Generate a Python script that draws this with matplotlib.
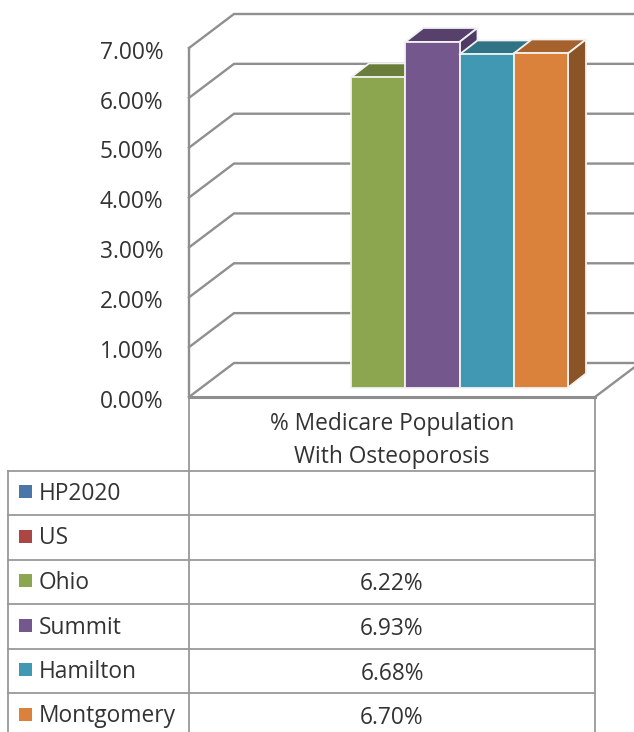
import numpy as np
import matplotlib
matplotlib.use("Agg")
import matplotlib.pyplot as plt
from matplotlib.patches import Polygon, Rectangle
from matplotlib.transforms import ScaledTranslation

plt.rcParams['font.family'] = ['Open Sans', 'DejaVu Sans']

series = ['HP2020', 'US', 'Ohio', 'Summit', 'Hamilton', 'Montgomery']
values = [None, None, 6.22, 6.93, 6.68, 6.70]
front_colors = ['#4A76A8', '#AA4643', '#8CA650', '#73578D', '#4098B2', '#DA813C']
top_colors = ['#38597F', '#803533', '#6B7D3A', '#57406B', '#2F7385', '#A6622C']
side_colors = ['#304C6C', '#6C2D2B', '#5C6C33', '#4E3A62', '#2A6475', '#8A5426']
category_label = '% Medicare Population\nWith Osteoporosis'
y_ticks = [0, 1, 2, 3, 4, 5, 6, 7]
y_tick_labels = ['0.00%', '1.00%', '2.00%', '3.00%', '4.00%', '5.00%', '6.00%', '7.00%']

W, H = 634, 732
PX_Y = 349 / 7          # pixels per percentage point
PX_X = 54.25            # pixels per series slot
GRAY = '#8f8f8f'
TEXT = '#333333'
FS = 16.4

fig = plt.figure(figsize=(W / 100, H / 100), dpi=100, facecolor='white')

# overlay in pixel coordinates for the data table
tb = fig.add_axes([0, 0, 1, 1], zorder=1)
tb.set_xlim(0, W)
tb.set_ylim(H, 0)
tb.axis('off')

# main chart axes: x in series slots, y in percent
ax = fig.add_axes([189 / W, (H - 397) / H, (W - 189) / W, 349 / H], zorder=2)
ax.patch.set_alpha(0)
x_left = (189 - 242.5) / PX_X
x_right = (W - 242.5) / PX_X
x_front_right = (595 - 242.5) / PX_X
ax.set_xlim(x_left, x_right)
ax.set_ylim(0, 7)
for s in ax.spines.values():
    s.set_visible(False)
ax.set_xticks([])
ax.set_yticks(y_ticks)
ax.set_yticklabels(y_tick_labels, fontsize=FS, color=TEXT)
ax.tick_params(axis='y', length=0, pad=18.5)
shift = ScaledTranslation(0, -1.2 / 72, fig.dpi_scale_trans)
for lab in ax.get_yticklabels():
    lab.set_transform(lab.get_transform() + shift)

wall_dx, wall_dy = 45 / PX_X, 34 / PX_Y
lw = 1.7
for v in y_ticks:
    ax.plot([x_left, x_left + wall_dx, x_right], [v, v + wall_dy, v + wall_dy],
            color=GRAY, lw=lw, clip_on=False, zorder=1, solid_joinstyle='miter')
ax.plot([x_left, x_left], [0, 7], color=GRAY, lw=lw, clip_on=False, zorder=1)
ax.plot([x_left, x_front_right], [0, 0], color=GRAY, lw=2.2, clip_on=False, zorder=1)
ax.plot([x_front_right, x_front_right + wall_dx], [0, wall_dy],
        color=GRAY, lw=lw, clip_on=False, zorder=1)

# 3D bars
base = 9.5 / PX_Y
bar_dx, bar_dy = 18 / PX_X, 14 / PX_Y
for i, v in enumerate(values):
    if v is None:
        continue
    top = base + v
    ec = dict(edgecolor='#f2f2f2', linewidth=1.3, clip_on=False, zorder=3 + i, joinstyle='round')
    ax.add_patch(Polygon([(i, top), (i + bar_dx, top + bar_dy),
                          (i + 1 + bar_dx, top + bar_dy), (i + 1, top)],
                         facecolor=top_colors[i], **ec))
    ax.add_patch(Polygon([(i + 1, base), (i + 1 + bar_dx, base + bar_dy),
                          (i + 1 + bar_dx, top + bar_dy), (i + 1, top)],
                         facecolor=side_colors[i], **ec))
    ax.add_patch(Rectangle((i, base), 1, v, facecolor=front_colors[i], **ec))

# data table
row_edges = [470.5, 515, 559.5, 604, 648.5, 693]
col_x = [8, 189, 595]
tl = dict(color='#999999', lw=1.3, zorder=1)
for y in row_edges:
    tb.plot([col_x[0], col_x[2]], [y, y], **tl)
tb.plot([col_x[0], col_x[0]], [row_edges[0], H], **tl)
tb.plot([col_x[1], col_x[1]], [397, H], **tl)
tb.plot([col_x[2], col_x[2]], [397, H], **tl)

tb.text(392, 440.5, category_label, ha='center', va='center', fontsize=FS, color=TEXT,
        linespacing=1.55)
for i, name in enumerate(series):
    yc = row_edges[i] + 23.5
    tb.add_patch(Rectangle((19, yc - 9), 13, 13, facecolor=front_colors[i], edgecolor='none'))
    tb.text(39, yc, name, ha='left', va='center', fontsize=FS, color=TEXT)
    if values[i] is not None:
        tb.text(392, yc + 1.5, f'{values[i]:.2f}%', ha='center', va='center', fontsize=FS,
                color=TEXT)

fig.savefig('out.png', dpi=100, facecolor='white')
